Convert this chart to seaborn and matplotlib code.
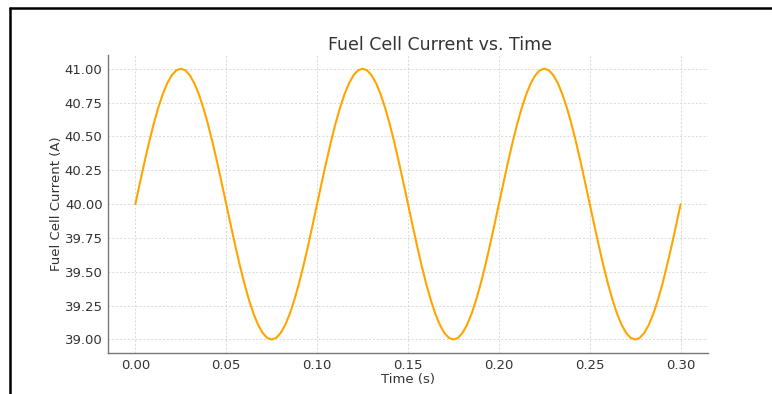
import numpy as np
import pandas as pd
import seaborn as sns
import matplotlib
matplotlib.use("Agg")
import matplotlib.pyplot as plt
from matplotlib.lines import Line2D

one_period = [40.000, 40.156, 40.309, 40.454, 40.588, 40.707, 40.809, 40.891, 40.951, 40.988,
              41.000, 40.988, 40.951, 40.891, 40.809, 40.707, 40.588, 40.454, 40.309, 40.156,
              40.000, 39.844, 39.691, 39.546, 39.412, 39.293, 39.191, 39.109, 39.049, 39.012,
              39.000, 39.012, 39.049, 39.109, 39.191, 39.293, 39.412, 39.546, 39.691, 39.844]
current = one_period + one_period + one_period + [40.000]
time_s = np.linspace(0.0, 0.30, len(current))

x_ticks = [0.00, 0.05, 0.10, 0.15, 0.20, 0.25, 0.30]
y_ticks = [39.00, 39.25, 39.50, 39.75, 40.00, 40.25, 40.50, 40.75, 41.00]

df = pd.DataFrame({"Time (s)": time_s, "Fuel Cell Current (A)": current})

sns.set_style("white")
plt.rcParams['font.family'] = ['DejaVu Sans']

fig = plt.figure(figsize=(7.72, 3.94), dpi=100)
ax = fig.add_axes([0.140, 0.104, 0.777, 0.756])

sns.lineplot(data=df, x="Time (s)", y="Fuel Cell Current (A)", ax=ax,
             color="#FFA500", linewidth=1.5)

ax.set_xticks(x_ticks)
ax.set_xticklabels([f"{v:.2f}" for v in x_ticks])
ax.set_yticks(y_ticks)
ax.set_yticklabels([f"{v:.2f}" for v in y_ticks])
ax.set_xlim(-0.015, 0.315)
ax.set_ylim(38.9, 41.1)

ax.grid(True, linestyle=(0, (2, 2)), color="#d8d8d8", linewidth=0.7)
for s in ["top", "right"]:
    ax.spines[s].set_visible(False)
for s in ["left", "bottom"]:
    ax.spines[s].set_color("#777777")
    ax.spines[s].set_linewidth(1.0)

ax.tick_params(axis="both", labelsize=9.5, colors="#333333", length=2.5,
               color="#777777", direction="out")
ax.tick_params(axis="y", pad=1.5)
ax.tick_params(axis="x", pad=1.5)
ax.set_xlabel("Time (s)", fontsize=9.5, color="#333333", labelpad=1)
ax.set_ylabel("Fuel Cell Current (A)", fontsize=9.5, color="#333333", labelpad=1)
ax.set_title("Fuel Cell Current vs. Time", fontsize=12.5, color="#333333", pad=4,
             x=0.553)

# Screenshot frame lines (left and top)
fig.add_artist(Line2D([10/772, 10/772], [0, 1 - 8/394], color="black", linewidth=1.8,
                      transform=fig.transFigure))
fig.add_artist(Line2D([10/772, 1], [1 - 8/394, 1 - 8/394], color="black", linewidth=1.8,
                      transform=fig.transFigure))

fig.savefig("out.png", dpi=100)
